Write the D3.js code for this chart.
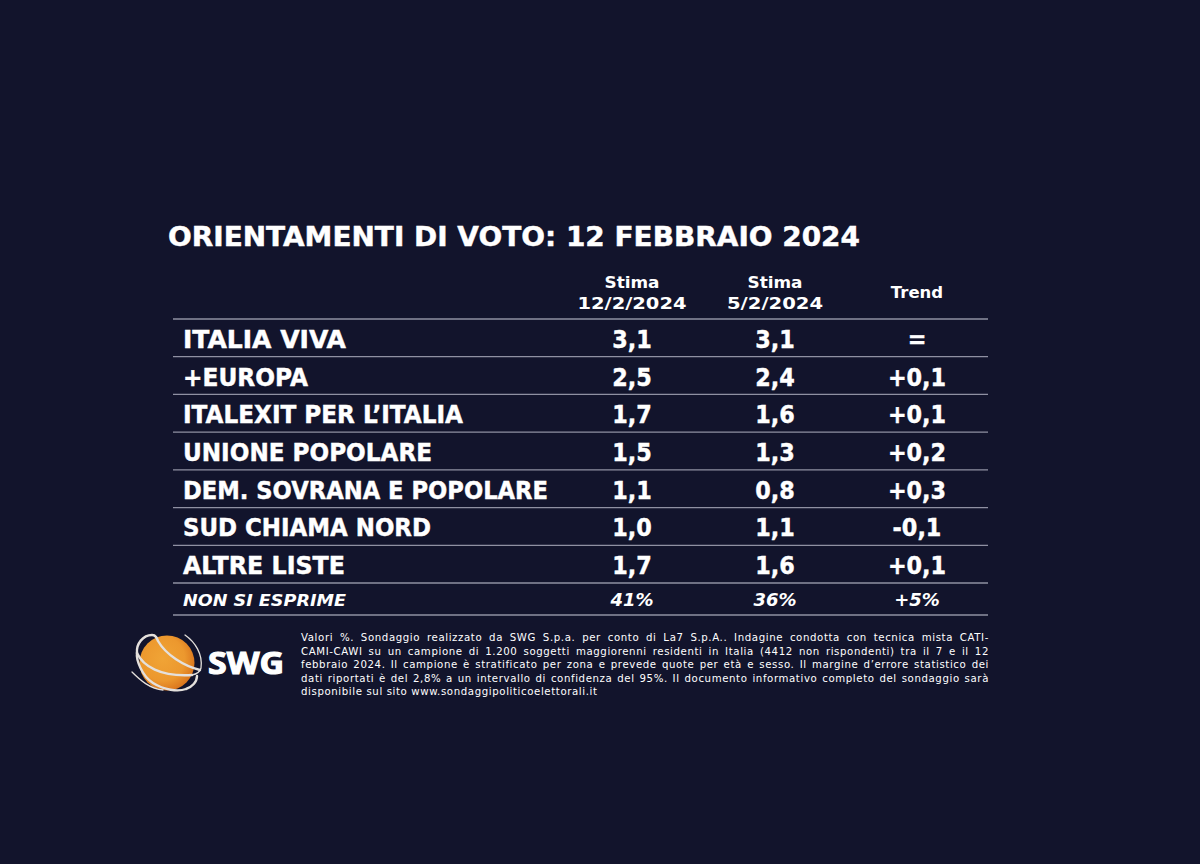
<!DOCTYPE html>
<html>
<head>
<meta charset="utf-8">
<script src="https://cdn.jsdelivr.net/npm/d3@7"></script>
<style>
  html, body { margin: 0; padding: 0; background: #12142c; }
  svg { display: block; }
  text { font-family: "DejaVu Sans", sans-serif; fill: #fff; }
  .heavy { stroke: #fff; stroke-width: 0.45; }
</style>
</head>
<body>
<div id="chart"></div>
<script>
const titleText = 'ORIENTAMENTI DI VOTO: 12 FEBBRAIO 2024';
const parties = ['ITALIA VIVA', '+EUROPA', 'ITALEXIT PER L’ITALIA', 'UNIONE POPOLARE', 'DEM. SOVRANA E POPOLARE', 'SUD CHIAMA NORD', 'ALTRE LISTE'];
const stima12 = ['3,1', '2,5', '1,7', '1,5', '1,1', '1,0', '1,7'];
const stima5 = ['3,1', '2,4', '1,6', '1,3', '0,8', '1,1', '1,6'];
const trend = ['=', '+0,1', '+0,1', '+0,2', '+0,3', '-0,1', '+0,1'];
const lastRow = ['NON SI ESPRIME', '41%', '36%', '+5%'];
const columns = ['stima12', 'stima5', 'trend'];
const noteLines = [
  'Valori %. Sondaggio realizzato da SWG S.p.a. per conto di La7 S.p.A.. Indagine condotta con tecnica mista CATI-',
  'CAMI-CAWI su un campione di 1.200 soggetti maggiorenni residenti in Italia (4412 non rispondenti) tra il 7 e il 12',
  'febbraio 2024. Il campione è stratificato per zona e prevede quote per età e sesso. Il margine d’errore statistico dei',
  'dati riportati è del 2,8% a un intervallo di confidenza del 95%. Il documento informativo completo del sondaggio sarà',
  'disponibile sul sito www.sondaggipoliticoelettorali.it'
];

const svg = d3.select('#chart').append('svg').attr('width', 1200).attr('height', 864);

const colX = { stima12: 632, stima5: 775, trend: 917 };
const y = d3.scaleBand().domain(parties).range([319, 583]);

// fit a text to a given width
function fit(sel, w) {
  sel.attr('textLength', w).attr('lengthAdjust', 'spacingAndGlyphs');
}
function squeeze(sel, k) {
  sel.each(function () {
    d3.select(this).call(fit, this.getComputedTextLength() * k);
  });
}

svg.append('text').attr('class', 'heavy').attr('x', 168).attr('y', 246)
  .attr('font-size', 26).attr('font-weight', 700).text(titleText)
  .call(fit, 692);

// header
const head = [
  { col: 'stima12', lines: ['Stima', '12/2/2024'], widths: [55, 109] },
  { col: 'stima5', lines: ['Stima', '5/2/2024'], widths: [55, 96] },
];
head.forEach(h => {
  h.lines.forEach((t, i) => {
    svg.append('text').attr('x', colX[h.col]).attr('y', 288 + i * 20.5)
      .attr('text-anchor', 'middle').attr('font-size', 16.5).attr('font-weight', 700).text(t)
      .call(fit, h.widths[i]);
  });
});
svg.append('text').attr('x', colX.trend).attr('y', 298)
  .attr('text-anchor', 'middle').attr('font-size', 16.5).attr('font-weight', 700).text('Trend');

// rules
const ruleYs = parties.map(p => y(p)).concat([583, 615]);
svg.selectAll('line.rule').data(ruleYs).join('line')
  .attr('class', 'rule')
  .attr('x1', 173).attr('x2', 988)
  .attr('y1', d => d).attr('y2', d => d)
  .attr('stroke', '#8f90a2').attr('stroke-width', 1.3);

// rows
const labelWidths = [163, 125, 280, 249, 365, 248, 162];
const rows = svg.selectAll('g.row').data(parties).join('g')
  .attr('class', 'row')
  .attr('transform', d => `translate(0,${y(d) + y.bandwidth() / 2 + 10})`);

rows.append('text').attr('class', 'heavy').attr('x', 183).attr('font-size', 24).attr('font-weight', 700)
  .text(d => d)
  .each(function (d, i) { d3.select(this).call(fit, labelWidths[i]); });

[[stima12, 'stima12'], [stima5, 'stima5'], [trend, 'trend']].forEach(([vals, col]) => {
  rows.append('text').attr('class', 'heavy').attr('x', colX[col]).attr('text-anchor', 'middle')
    .attr('font-size', 24).attr('font-weight', 700)
    .text((d, i) => vals[i])
    .call(squeeze, 0.93);
});

// last row, italic
const lastY = 606;
svg.append('text').attr('x', 183).attr('y', lastY).attr('font-size', 16.5)
  .attr('font-weight', 700).attr('font-style', 'italic').text(lastRow[0]).call(fit, 163);
columns.forEach((c, i) => {
  svg.append('text').attr('x', colX[c]).attr('y', lastY).attr('text-anchor', 'middle')
    .attr('font-size', 18).attr('font-weight', 700).attr('font-style', 'italic').text(lastRow[i + 1]);
});

// footnote: justified by hand with word spacing, last line left as it is
noteLines.forEach((t, i) => {
  const line = svg.append('text').attr('x', 301).attr('y', 641 + i * 13.5)
    .attr('font-size', 10.2).style('letter-spacing', '0.6px').text(t);
  if (i < noteLines.length - 1) {
    const gaps = t.split(' ').length - 1;
    const extra = (688 - line.node().getComputedTextLength()) / gaps;
    line.style('word-spacing', extra + 'px');
  }
});

// logo
const defs = svg.append('defs');
const grad = defs.append('radialGradient').attr('id', 'ball').attr('cx', '42%').attr('cy', '42%').attr('r', '62%');
grad.append('stop').attr('offset', '0%').attr('stop-color', '#f0a436');
grad.append('stop').attr('offset', '65%').attr('stop-color', '#ec982e');
grad.append('stop').attr('offset', '100%').attr('stop-color', '#d9731c');

const logo = svg.append('g');
logo.append('circle').attr('cx', 167).attr('cy', 663).attr('r', 27.5).attr('fill', 'url(#ball)');
const rings = [
  'M137,653 C136,644 143,635 152,635 C156,635 157,638 158,641 C166,655 184,666 200,670',
  'M137,653 C143,666 160,677 192,675',
  'M137,653 C136,660 142,676 153,683 C164,690 178,692 186,689 C192,687 197,682 197,676',
  'M185,635 C195,642 203,654 201,668 C200,672 197,674 192,675',
  'M132,672 C140,680 150,689 163,690'
];
logo.selectAll('path').data(rings).join('path')
  .attr('d', d => d).attr('fill', 'none')
  .attr('stroke', '#e4e0dc').attr('stroke-width', (d, i) => i >= 3 ? 1.3 : 2.4)
  .attr('stroke-linecap', 'round');
logo.append('text').attr('x', 208).attr('y', 674).attr('font-size', 30).attr('font-weight', 700)
  .style('font-family', '"Open Sans", sans-serif').style('stroke', '#fff').style('stroke-width', 1.1)
  .text('SWG').call(fit, 76);
</script>
</body>
</html>
